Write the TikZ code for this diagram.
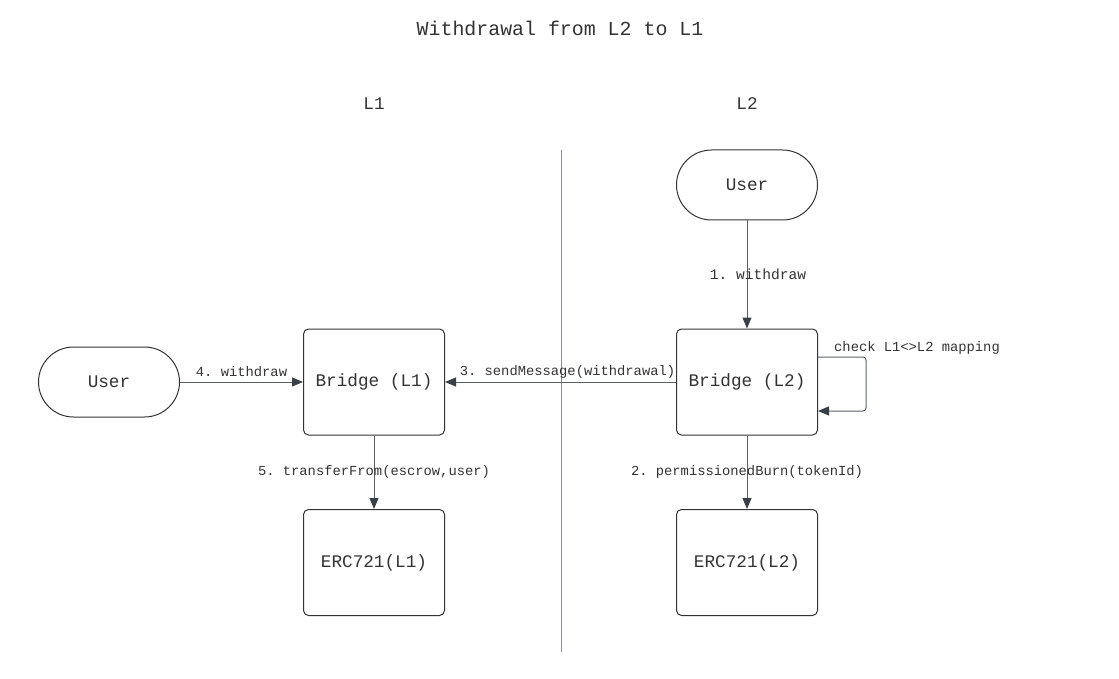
\documentclass[tikz,border=0pt]{standalone}
\usepackage{fontspec}
\setmonofont{Liberation Mono}
\usetikzlibrary{arrows.meta}
\definecolor{ink}{HTML}{333333}
\definecolor{wire}{HTML}{5A5F66}
\definecolor{tip}{HTML}{3A3F47}
\definecolor{split}{HTML}{8C9096}
\begin{document}
\begin{tikzpicture}[x=1pt,y=-1pt,font=\ttfamily,text=ink,line width=1pt,
  box/.style={draw=ink,rounded corners=5pt,minimum width=141pt,minimum height=106pt,inner sep=0pt,font=\ttfamily\fontsize{17.7}{20}\selectfont},
  actor/.style={box,rounded corners=35pt,minimum height=70pt},
  head/.style={font=\ttfamily\fontsize{17.7}{20}\selectfont},
  msg/.style={font=\ttfamily\fontsize{13.8}{16}\selectfont,inner sep=1pt},
  link/.style={draw=wire,-{Triangle[length=11pt,width=9pt,color=tip]}}]
\useasboundingbox (0,0) rectangle (1119,679);
\node[font=\ttfamily\fontsize{19.9}{22}\selectfont] (title) at (560,28) {Withdrawal from L2 to L1};
\node[head] (headA) at (374,104) {L1};
\node[head] (headB) at (747,104) {L2};
\coordinate (splittop) at (561,150);
\coordinate (splitbot) at (561,652);
\draw[split] (splittop) -- (splitbot);
\node[actor] (userB) at (747,185) {User};
\node[box] (bridgeB) at (747,382) {Bridge (L2)};
\node[box] (ercB) at (747,562.5) {ERC721(L2)};
\node[box] (bridgeA) at (374,382) {Bridge (L1)};
\node[box] (ercA) at (374,562.5) {ERC721(L1)};
\node[actor] (userA) at (109,382) {User};
\draw[link] (userB) -- node[msg,xshift=11pt,font=\ttfamily\fontsize{14.6}{16}\selectfont] {1. withdraw} (bridgeB);
\draw[link] (bridgeB) -- node[msg,yshift=10pt,xshift=7pt] {3. sendMessage(withdrawal)} (bridgeA);
\draw[link] (userA) -- node[msg,yshift=10pt] {4. withdraw} (bridgeA);
\draw[link] (bridgeB) -- node[msg] {2. permissionedBurn(tokenId)} (ercB);
\draw[link] (bridgeA) -- node[msg] {5. transferFrom(escrow,user)} (ercA);
\draw[link,rounded corners=3pt] ([yshift=25pt]bridgeB.east) -- ++(48,0) |- ([yshift=-29pt]bridgeB.east);
\node[msg] (loopnote) at (917,348) {check L1<>L2 mapping};
\end{tikzpicture}
\end{document}
